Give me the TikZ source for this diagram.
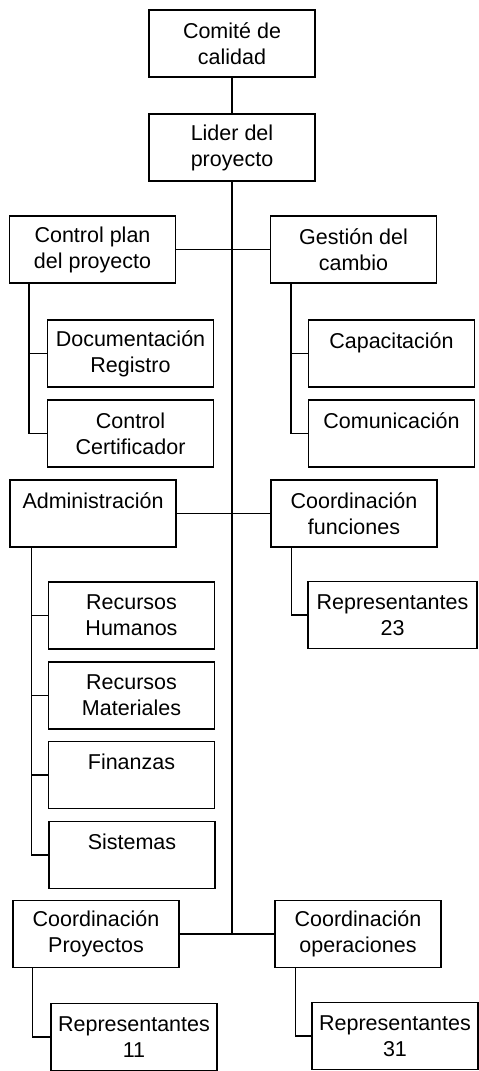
\documentclass[tikz,border=0pt]{standalone}
\usepackage{fontspec}
\setmainfont{Liberation Sans}
\usepackage{tikz}
\usetikzlibrary{positioning}

\begin{document}
\begin{tikzpicture}[
  x=1pt,y=-1pt,
  box/.style={draw=black,line width=1.4pt,align=center,fill=white,inner sep=0pt,minimum width=166pt,minimum height=67pt,font=\fontsize{21.5}{26}\selectfont},
  link/.style={line width=1.4pt,draw=black}
]
\useasboundingbox (0,0) rectangle (479,1071);

\node[box] (comite) at (232,43.5) {Comité de\\calidad};
\node[box] (lider) at (232,147.5) {Lider del\\proyecto};

\node[box] (control) at (92.5,249.5) {Control plan\\del proyecto};
\node[box] (gestion) at (353.5,249.5) {Gestión del\\cambio};
\node[box] (docu) at (130.5,353.5) {Documentación\\Registro};
\node[box] (certif) at (130.5,433.5) {Control\\Certificador};
\node[box] (capac) at (391.5,353.5) {Capacitación\\~};
\node[box] (comun) at (391.5,433.5) {Comunicación\\~};

\node[box] (admin) at (93,513.5) {Administración\\~};
\node[box] (coordf) at (354,513.5) {Coordinación\\funciones};
\node[box] (rechum) at (131.5,615.5) {Recursos\\Humanos};
\node[box] (recmat) at (131.5,695.5) {Recursos\\Materiales};
\node[box] (finan) at (131.5,775) {Finanzas\\~};
\node[box] (siste) at (132,855) {Sistemas\\~};
\node[box,minimum width=169pt] (rep23) at (392.5,615) {Representantes\\23};

\node[box] (coordp) at (96,934) {Coordinación\\Proyectos};
\node[box] (coordo) at (358,934) {Coordinación\\operaciones};
\node[box] (rep11) at (134,1037) {Representantes\\11};
\node[box] (rep31) at (395,1036) {Representantes\\31};

% main line
\coordinate (spine) at (lider.south |- coordp.east);
\draw[link] (comite) -- (lider);
\draw[link] (lider.south) -- (spine);
\draw[link] (control.east) -- (gestion.west);
\draw[link] (admin.east) -- (coordf.west);
\draw[link] (coordp.east) -- (coordo.west);

% branches
\coordinate (cpb) at ([xshift=20pt]control.south west);
\draw[link] (cpb) |- (certif.west);
\draw[link] (cpb |- docu.west) -- (docu.west);

\coordinate (gcb) at ([xshift=21pt]gestion.south west);
\draw[link] (gcb) |- (comun.west);
\draw[link] (gcb |- capac.west) -- (capac.west);

\coordinate (adb) at ([xshift=22pt]admin.south west);
\draw[link] (adb) |- (siste.west);
\foreach \n in {rechum,recmat,finan}
  \draw[link] (adb |- \n.west) -- (\n.west);

\coordinate (cfb) at ([xshift=21pt]coordf.south west);
\draw[link] (cfb) |- (rep23.west);

\coordinate (cpr) at ([xshift=20pt]coordp.south west);
\draw[link] (cpr) |- (rep11.west);

\coordinate (cop) at ([xshift=21pt]coordo.south west);
\draw[link] (cop) |- (rep31.west);
\end{tikzpicture}
\end{document}
